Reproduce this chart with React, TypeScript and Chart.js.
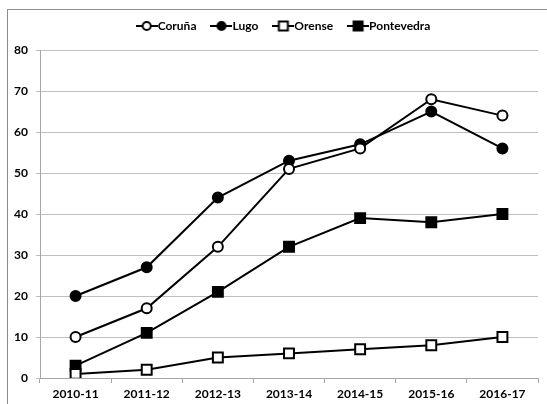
import React, { useEffect, useRef } from "react";
import { Chart, registerables } from "chart.js";
Chart.register(...registerables);

const categories = ["2010-11", "2011-12", "2012-13", "2013-14", "2014-15", "2015-16", "2016-17"];
const coruna = [10, 17, 32, 51, 56, 68, 64];
const lugo = [20, 27, 44, 53, 57, 65, 56];
const orense = [1, 2, 5, 6, 7, 8, 10];
const pontevedra = [3, 11, 21, 32, 39, 38, 40];
const seriesNames = ["Coruña", "Lugo", "Orense", "Pontevedra"];
const yMin = 0;
const yMax = 80;
const yStep = 10;

const FONT = "Lato, 'Open Sans', sans-serif";

function legendIcon(shape: "circle" | "rect", fill: string) {
  const c = document.createElement("canvas");
  c.width = 22;
  c.height = 12;
  const ctx = c.getContext("2d")!;
  ctx.strokeStyle = "#000";
  ctx.lineWidth = 2;
  ctx.beginPath();
  ctx.moveTo(0, 6);
  ctx.lineTo(22, 6);
  ctx.stroke();
  ctx.fillStyle = fill;
  ctx.beginPath();
  if (shape === "circle") ctx.arc(11, 6, 4, 0, Math.PI * 2);
  else ctx.rect(6.5, 1.5, 9, 9);
  ctx.fill();
  ctx.stroke();
  return c;
}

const legendBox = {
  id: "legendBox",
  beforeLayout(chart: any) {
    const lg = chart.legend;
    if (lg && !lg._patched) {
      const orig = lg.fit.bind(lg);
      lg.fit = function () {
        orig();
        this.height = 50;
      };
      lg._patched = true;
    }
  },
  afterLayout(chart: any) {
    if (chart.legend) {
      chart.legend.left += 14;
      chart.legend.right += 14;
    }
  },
};

export default function App() {
  const ref = useRef<HTMLCanvasElement>(null);
  useEffect(() => {
    const styles: { shape: "circle" | "rect"; fill: string }[] = [
      { shape: "circle", fill: "#ffffff" },
      { shape: "circle", fill: "#000000" },
      { shape: "rect", fill: "#ffffff" },
      { shape: "rect", fill: "#000000" },
    ];
    const values = [coruna, lugo, orense, pontevedra];
    const icons = styles.map((s) => legendIcon(s.shape, s.fill));
    const chart = new Chart(ref.current!, {
      type: "line",
      data: {
        labels: categories,
        datasets: values.map((v, i) => ({
          label: seriesNames[i],
          data: v,
          borderColor: "#000",
          borderWidth: 2,
          pointStyle: styles[i].shape,
          pointRadius: styles[i].shape === "circle" ? 5 : 7,
          pointBackgroundColor: styles[i].fill,
          pointBorderColor: "#000",
          pointBorderWidth: 2,
          tension: 0,
        })),
      },
      plugins: [legendBox],
      options: {
        animation: false,
        responsive: false,
        layout: { padding: { left: 0, right: 3, top: 0, bottom: 0 } },
        plugins: {
          tooltip: { enabled: false },
          legend: {
            position: "top",
            labels: {
              usePointStyle: true,
              pointStyleWidth: 10,
              padding: 20,
              color: "#000",
              font: { family: FONT, size: 12, weight: "bold" },
              generateLabels: (ch: any) => {
                const items = Chart.defaults.plugins.legend.labels.generateLabels(ch);
                return items.map((it: any, i: number) => ({ ...it, pointStyle: icons[i] }));
              },
            },
          },
        },
        scales: {
          x: {
            offset: true,
            grid: {
              offset: true,
              drawOnChartArea: false,
              drawTicks: true,
              tickLength: 5,
              color: "#a6a6a6",
            },
            border: { color: "#a6a6a6", width: 1 },
            ticks: {
              color: "#000",
              padding: 4,
              maxRotation: 0,
              font: { family: FONT, size: 12, weight: "bold" },
            },
            afterFit: (s: any) => {
              s.height = 26;
            },
          },
          y: {
            min: yMin,
            max: yMax,
            ticks: {
              stepSize: yStep,
              color: "#000",
              padding: 8,
              font: { family: FONT, size: 12, weight: "bold" },
            },
            grid: { color: "#bfbfbf", tickLength: 4 },
            border: { color: "#a6a6a6", width: 1 },
            afterFit: (s: any) => {
              s.width = 40;
            },
          },
        },
      },
    });
    return () => chart.destroy();
  }, []);
  return (
    <div style={{ position: "absolute", left: 0, top: 0, width: 547, height: 404, overflow: "hidden", background: "#fff" }}>
      <div
        style={{
          position: "absolute",
          left: 7,
          top: 9,
          width: 600,
          height: 450,
          border: "1px solid #8c8c8c",
        }}
      />
      <canvas ref={ref} width={547} height={404} style={{ position: "absolute", left: 0, top: 0 }} />
    </div>
  );
}
